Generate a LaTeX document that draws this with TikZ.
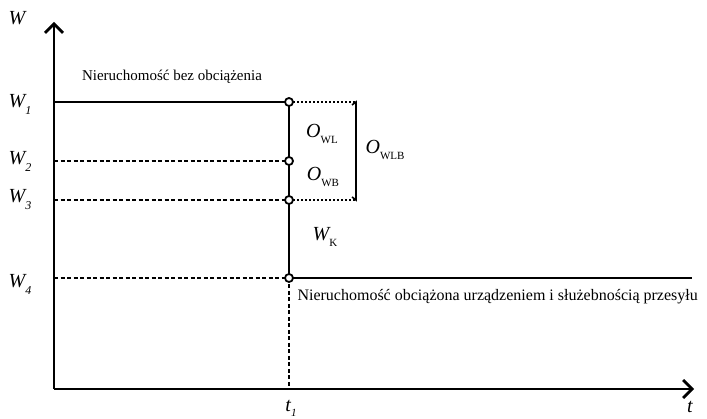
\documentclass[tikz,border=0pt]{standalone}
\usepackage{fontspec}
\setmainfont{Liberation Serif}
\usetikzlibrary{arrows.meta}
\newcommand{\upsub}[1]{\raisebox{-6pt}{\fontsize{11}{11}\selectfont\upshape #1}}
\begin{document}
\begin{tikzpicture}[x=1pt,y=-1pt,
  axis/.style={line width=2.8pt,-{Straight Barb[length=9pt,width=18pt,line width=2.8pt]}},
  solidln/.style={line width=2.2pt},
  dashln/.style={line width=1.1pt,dash pattern=on 4pt off 2.5pt},
  dotln/.style={line width=1.1pt,dash pattern=on 2pt off 2pt},
  pt/.style={circle,draw,line width=1.8pt,fill=white,inner sep=0pt,minimum size=8pt},
  lab/.style={font=\fontsize{20}{20}\selectfont\itshape},
  txt/.style={font=\fontsize{15}{16}\selectfont}]
\useasboundingbox (0,0) rectangle (707,419);
\coordinate (O) at (54,389);
\coordinate (Ytop) at (54,22);
\coordinate (Xend) at (694,389);
\draw[axis] (O) -- (Ytop);
\draw[axis] (O) -- (Xend);
% levels
\coordinate (a1) at (54,102);
\coordinate (a2) at (54,161);
\coordinate (a3) at (54,200);
\coordinate (a4) at (54,278);
\coordinate (tb) at (289,389);
\coordinate (r1) at (356,102);
\coordinate (r3) at (356,200);
\coordinate (e4) at (692,278);
\coordinate (c1) at (289,102);
\coordinate (c2) at (289,161);
\coordinate (c3) at (289,200);
\coordinate (c4) at (289,278);
\draw[solidln] (a1) -- (c1);
\draw[dashln] (a2) -- (c2);
\draw[dashln] (a3) -- (c3);
\draw[dashln] (a4) -- (c4);
\draw[solidln] (c1) -- (c4);
\draw[solidln] (c4) -- (e4);
\draw[dashln] (c4) -- (tb);
\draw[dotln] (c1) -- (r1);
\draw[dotln] (c3) -- (r3);
\draw[line width=1.6pt] ([xshift=-4pt,yshift=-3pt]r1) -- (r1) -- (r3) -- ([xshift=-4pt,yshift=3pt]r3);
\node[pt] (p1) at (c1) {};
\node[pt] (p2) at (c2) {};
\node[pt] (p3) at (c3) {};
\node[pt] (p4) at (c4) {};
% labels
\node[lab] (lW) at (17,18) {W};
\node[lab] (lW1) at (20,104) {W\raisebox{-7pt}{\fontsize{12}{12}\selectfont 1}};
\node[lab] (lW2) at (20,161) {W\raisebox{-7pt}{\fontsize{12}{12}\selectfont 2}};
\node[lab] (lW3) at (20,200) {W\raisebox{-7pt}{\fontsize{12}{12}\selectfont 3}};
\node[lab] (lW4) at (20,284) {W\raisebox{-7pt}{\fontsize{12}{12}\selectfont 4}};
\node[lab] (lt1) at (291,408) {t\raisebox{-5pt}{\fontsize{11}{11}\selectfont 1}};
\node[lab] (lt) at (690,407) {t};
\node[lab] (lOWL) at (322,134) {O\upsub{WL}};
\node[lab] (lOWB) at (323,177) {O\upsub{WB}};
\node[lab] (lOWLB) at (385,150) {O\upsub{WLB}};
\node[lab] (lWK) at (325,237) {W\upsub{K}};
\node[txt] (t1) at (172,77) {Nieruchomość bez obciążenia};
\node[txt,anchor=west,font=\fontsize{16}{17}\selectfont] (t2) at (294,297) {Nieruchomość obciążona urządzeniem i służebnością przesyłu};
\end{tikzpicture}
\end{document}
